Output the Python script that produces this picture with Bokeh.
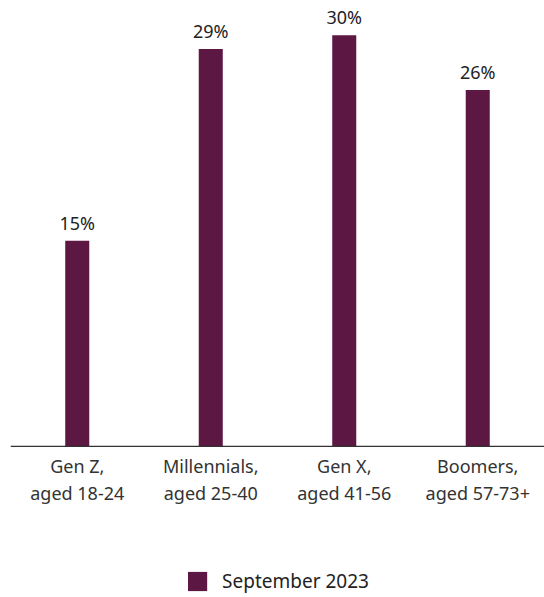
from bokeh.plotting import figure
from bokeh.models import ColumnDataSource, LabelSet, Legend, LegendItem, Range1d, Span
from bokeh.core.properties import value
from bokeh.embed import file_html
from bokeh.resources import INLINE

categories = ["Gen Z,\naged 18-24", "Millennials,\naged 25-40", "Gen X,\naged 41-56", "Boomers,\naged 57-73+"]
values = [15, 29, 30, 26]
labels = ["15%", "29%", "30%", "26%"]
series_name = "September 2023"

COLOR = "#5C1742"
FONT = "Noto Sans"

src = ColumnDataSource(data=dict(cat=categories, val=values, lab=labels, zero=[0] * len(values)))

p = figure(x_range=categories, frame_width=534, frame_height=587, output_backend="svg",
           toolbar_location=None, min_border_left=10, min_border_right=0,
           min_border_top=10, min_border_bottom=0)
p.y_range = Range1d(-11.02, 31.8)
p.outline_line_color = None
p.xgrid.grid_line_color = None
p.ygrid.grid_line_color = None
p.xaxis.visible = False
p.yaxis.visible = False
p.x_range.range_padding = 0

r = p.vbar(x="cat", top="val", width=0.18, source=src, fill_color=COLOR, line_color=None)

# baseline (category axis line)
p.add_layout(Span(location=0, dimension="width", line_color="#333333", line_width=1.2))

# value labels
p.add_layout(LabelSet(x="cat", y="val", text="lab", source=src, text_align="center",
                      text_baseline="bottom", y_offset=6, text_font=value(FONT),
                      text_font_size="18px", text_color="#222222"))

# category labels under the baseline
p.text(x="cat", y="zero", text="cat", source=src, text_align="center", text_baseline="top",
       y_offset=8, text_font=value(FONT), text_font_size="18px", text_color="#333333",
       text_line_height=1.12)

legend = Legend(items=[LegendItem(label=series_name, renderers=[r])], location="bottom_center",
                orientation="horizontal", glyph_width=24, glyph_height=24,
                label_text_font=FONT, label_text_font_size="19px", label_text_color="#222222",
                border_line_color=None, background_fill_alpha=0, margin=3, padding=0,
                label_standoff=13)
p.add_layout(legend, "center")

open("out.html", "w").write(file_html(p, INLINE))
